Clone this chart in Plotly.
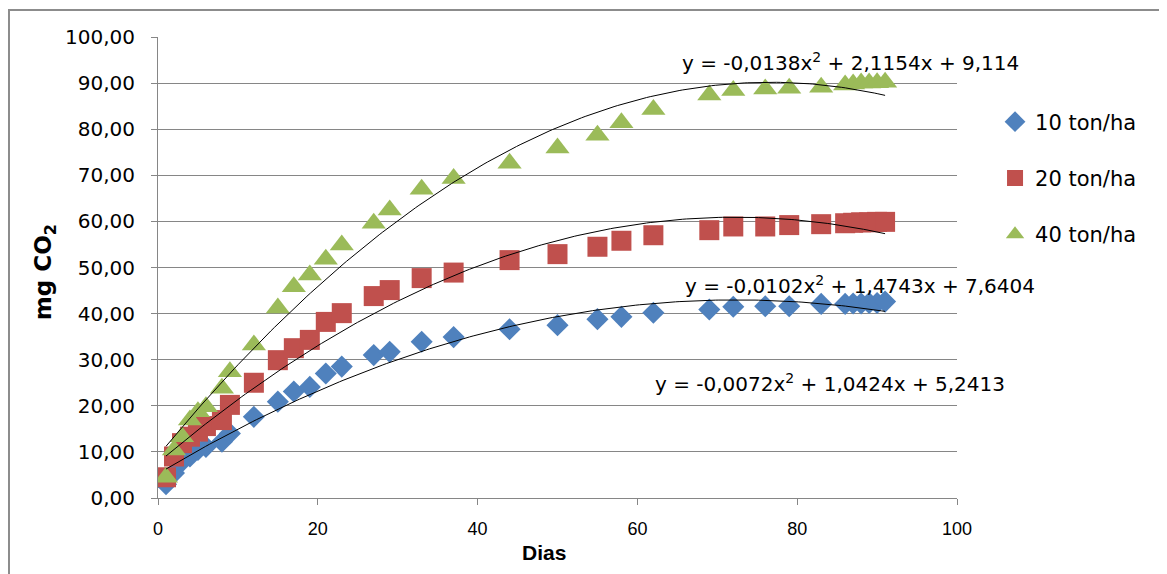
import numpy as np
import plotly.graph_objects as go

# ---- data ----
days = [1, 2, 3, 4, 5, 6, 8, 9, 12, 15, 17, 19, 21, 23, 27, 29, 33, 37, 44, 50,
        55, 58, 62, 69, 72, 76, 79, 83, 86, 87, 88, 89, 90, 91]
ton10 = [3.0, 5.4, 7.9, 9.0, 10.4, 11.1, 12.2, 14.0, 17.6, 20.9, 23.1, 24.1, 27.0, 28.5,
         31.0, 31.7, 33.9, 34.9, 36.6, 37.5, 38.8, 39.3, 40.2, 40.9, 41.5, 41.6, 41.6,
         42.1, 42.1, 42.2, 42.2, 42.3, 42.3, 42.6]
ton20 = [4.5, 9.0, 11.9, 13.3, 14.4, 15.6, 16.9, 20.2, 25.0, 29.9, 32.5, 34.3, 38.2, 40.1,
         43.8, 45.1, 47.7, 48.9, 51.6, 52.9, 54.5, 55.8, 57.0, 58.1, 58.9, 58.9, 59.2,
         59.4, 59.6, 59.7, 59.8, 59.8, 59.9, 59.9]
ton40 = [4.5, 10.4, 13.3, 16.9, 18.7, 19.8, 23.8, 27.4, 33.2, 41.2, 45.8, 48.4, 51.8, 54.9,
         59.6, 62.5, 67.0, 69.3, 72.6, 75.9, 78.7, 81.4, 84.3, 87.4, 88.4, 88.7, 88.9,
         89.1, 89.6, 89.8, 90.0, 90.0, 90.1, 90.2]

series_names = ["10 ton/ha", "20 ton/ha", "40 ton/ha"]

# polynomial trendline coefficients (as printed on the chart)
coef10 = [-0.0072, 1.0424, 5.2413]
coef20 = [-0.0102, 1.4743, 7.6404]
coef40 = [-0.0138, 2.1154, 9.114]
eq10 = "y = -0,0072x<sup>2</sup> + 1,0424x + 5,2413"
eq20 = "y = -0,0102x<sup>2</sup> + 1,4743x + 7,6404"
eq40 = "y = -0,0138x<sup>2</sup> + 2,1154x + 9,114"

y_tickvals = [0, 10, 20, 30, 40, 50, 60, 70, 80, 90, 100]
y_ticktext = ["0,00", "10,00", "20,00", "30,00", "40,00", "50,00",
              "60,00", "70,00", "80,00", "90,00", "100,00"]
x_tickvals = [0, 20, 40, 60, 80, 100]
x_ticktext = ["0", "20", "40", "60", "80", "100"]

# ---- styling ----
colors = ["#4F81BD", "#C0504D", "#9BBB59"]
symbols = ["diamond", "square", "triangle-up"]
sizes = [17, 20, 21]
FONT = "DejaVu Sans"

fig = go.Figure()

for name, vals, col, sym, sz in zip(series_names, (ton10, ton20, ton40), colors, symbols, sizes):
    fig.add_trace(go.Scatter(x=days, y=vals, mode="markers", name=name, legendgroup=name,
                             marker=dict(color=col, symbol=sym, size=sz, line=dict(width=0))))

xs = np.linspace(days[0], days[-1], 200)
for coef in (coef10, coef20, coef40):
    fig.add_trace(go.Scatter(x=xs, y=np.polyval(coef, xs), mode="lines",
                             line=dict(color="black", width=1), showlegend=False,
                             hoverinfo="skip"))

axis_col = "#868686"
fig.update_layout(
    width=1159, height=566,
    margin=dict(l=150, r=210, t=29, b=76),
    paper_bgcolor="white", plot_bgcolor="white",
    font=dict(family=FONT, color="black"),
    xaxis=dict(range=[0, 100], tickvals=x_tickvals, ticktext=x_ticktext,
               showgrid=False, zeroline=False, showline=True, linecolor=axis_col, linewidth=1,
               ticks="outside", ticklen=6, tickcolor=axis_col, ticklabelstandoff=8,
               tickfont=dict(family="Liberation Sans", size=18, color="black")),
    yaxis=dict(range=[0, 100], tickvals=y_tickvals, ticktext=y_ticktext,
               showgrid=True, gridcolor=axis_col, gridwidth=1, zeroline=False,
               showline=True, linecolor=axis_col, linewidth=1,
               ticks="outside", ticklen=6, tickcolor=axis_col, ticklabelstandoff=12,
               tickfont=dict(family=FONT, size=20, color="black")),
    legend=dict(x=1.0476, y=0.86, xanchor="left", yanchor="top",
                font=dict(family=FONT, size=21, color="black"),
                traceorder="grouped", tracegroupgap=26, bgcolor="rgba(0,0,0,0)"),
    showlegend=True,
)

ann_font = dict(family=FONT, size=20, color="black")
fig.add_annotation(x=65.3, y=94.6, xref="x", yref="y", text=eq40, showarrow=False,
                   xanchor="left", yanchor="middle", font=ann_font)
fig.add_annotation(x=65.7, y=46.2, xref="x", yref="y", text=eq20, showarrow=False,
                   xanchor="left", yanchor="middle", font=ann_font)
fig.add_annotation(x=62.0, y=24.9, xref="x", yref="y", text=eq10, showarrow=False,
                   xanchor="left", yanchor="middle", font=ann_font)

# axis titles
fig.add_annotation(x=-0.1414, y=0.49, xref="paper", yref="paper", text="<b>mg CO<sub>2</sub></b>",
                   showarrow=False, textangle=-90, xanchor="center", yanchor="middle",
                   font=dict(family=FONT, size=23, color="black"))
fig.add_annotation(x=0.483, y=-0.119, xref="paper", yref="paper", text="<b>Dias</b>",
                   showarrow=False, xanchor="center", yanchor="middle",
                   font=dict(family="Liberation Sans", size=21, color="black"))

# outer chart border
fig.add_shape(type="rect", xref="paper", yref="paper",
              x0=-0.1865, x1=1.2553, y0=-0.25, y1=1.0586,
              line=dict(color="#8C8C8C", width=2), fillcolor="rgba(0,0,0,0)", layer="below")

fig.write_html("out.html")
